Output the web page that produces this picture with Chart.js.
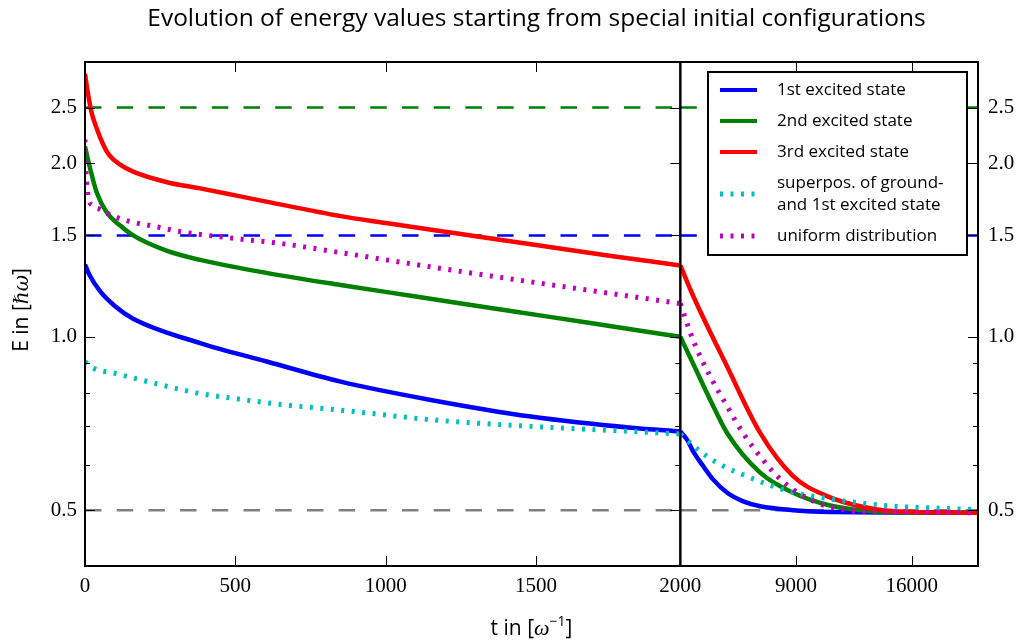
<!DOCTYPE html>
<html lang="en">
<head>
<meta charset="UTF-8">
<title>Evolution of energy values</title>
<script src="https://cdn.jsdelivr.net/npm/chart.js"></script>
<style>
  html, body { margin: 0; padding: 0; background: #fff; }
  #wrap { position: relative; width: 1021px; height: 644px; }
</style>
</head>
<body>
<div id="wrap"><canvas id="chart" width="1021" height="644"></canvas></div>
<script>
// axis ticks
const leftTicks = [0, 500, 1000, 1500];
const rightTicks = [2000, 9000, 16000];
const yMajor = [0.5, 1.0, 1.5, 2.0, 2.5];
const yMinor = [0.6, 0.7, 0.8, 0.9];

// 1st excited state
const tBlueL = [0, 15, 50, 100, 160, 383, 607, 850, 1150, 1483, 1817, 1980];
const eBlueL = [1.335, 1.28, 1.20, 1.13, 1.075, 0.975, 0.905, 0.836, 0.777, 0.727, 0.695, 0.685];
const tBlueR = [2000, 2402, 2784, 3388, 3991, 4836, 5801, 6827, 8819, 10448, 20000];
const eBlueR = [0.685, 0.663, 0.632, 0.596, 0.565, 0.536, 0.518, 0.508, 0.500, 0.497, 0.495];

// 2nd excited state
const tGreenL = [0, 17, 39, 72, 117, 160, 273, 383, 607, 850, 1100, 1300, 1540, 1750, 1980];
const eGreenL = [2.14, 1.96, 1.78, 1.645, 1.56, 1.50, 1.41, 1.36, 1.29, 1.23, 1.175, 1.132, 1.084, 1.043, 1.0];
const tGreenR = [2000, 2784, 3810, 4836, 6827, 8819, 10870, 12861, 14853, 20000];
const eGreenR = [1.0, 0.897, 0.777, 0.68, 0.581, 0.536, 0.511, 0.50, 0.496, 0.495];

// 3rd excited state
const tRedL = [0, 10, 22, 39, 60, 80, 117, 160, 273, 383, 500, 607, 850, 1000, 1250, 1500, 1750, 1980];
const eRedL = [2.86, 2.64, 2.45, 2.30, 2.16, 2.07, 1.99, 1.935, 1.855, 1.81, 1.76, 1.715, 1.62, 1.576, 1.508, 1.443, 1.381, 1.33];
const tRedR = [2000, 2784, 4836, 6827, 8819, 10870, 12861, 14853, 20000];
const eRedR = [1.33, 1.176, 0.887, 0.681, 0.573, 0.529, 0.508, 0.498, 0.495];

// superposition of ground and 1st excited state
const tCyanL = [0, 28, 100, 233, 378, 517, 661, 839, 1150, 1483, 1817, 1980];
const eCyanL = [0.905, 0.882, 0.864, 0.830, 0.798, 0.779, 0.762, 0.747, 0.718, 0.699, 0.685, 0.678];
const tCyanR = [2000, 2603, 3610, 4715, 5801, 7008, 8215, 9422, 10146, 12077, 14853, 16904, 20000];
const eCyanR = [0.678, 0.654, 0.62, 0.594, 0.576, 0.558, 0.543, 0.532, 0.528, 0.518, 0.508, 0.505, 0.501];

// uniform distribution
const tMagL = [0, 3, 10, 25, 50, 83, 150, 217, 327, 493, 660, 850, 1100, 1373, 1650, 1980];
const eMagL = [2.20, 1.95, 1.76, 1.69, 1.665, 1.63, 1.585, 1.56, 1.52, 1.483, 1.45, 1.40, 1.335, 1.27, 1.21, 1.142];
const tMagR = [2000, 2784, 3810, 4836, 5801, 6827, 7853, 8819, 9844, 10870, 12861, 20000];
const eMagR = [1.142, 0.985, 0.853, 0.757, 0.68, 0.62, 0.573, 0.543, 0.522, 0.508, 0.498, 0.495];

// horizontal reference levels
const refLevels = [2.5, 1.5, 0.5];
const refColors = ['#008000', '#0000ff', '#808080'];
const leftRange = [0, 1980];
const rightRange = [2000, 20000];

const TITLE = 'Evolution of energy values starting from special initial configurations';
const SANS = '"Open Sans", "Noto Sans", sans-serif';
const SERIF = '"Liberation Serif", "DejaVu Serif", serif';

function pts(ts, es) { return ts.map((t, i) => ({x: t, y: es[i]})); }

const solid = {borderWidth: 4.5, borderDash: []};
const dotted = {borderWidth: 5, borderDash: [3, 7.5]};

function series(label, color, style, order, tL, eL, tR, eR) {
  const base = {borderColor: color, backgroundColor: color, pointRadius: 0,
    cubicInterpolationMode: 'monotone', fill: false, order: order, yAxisID: 'yL',
    borderCapStyle: 'butt', ...style};
  return [
    {...base, label: label, inLegend: true, xAxisID: 'xL', data: pts(tL, eL)},
    {...base, label: label, xAxisID: 'xR', data: pts(tR, eR)}
  ];
}

const datasets = [];
refLevels.forEach((lv, i) => {
  const base = {borderColor: refColors[i], borderWidth: 2.5, borderDash: [16.5, 15.2],
    pointRadius: 0, order: 10, yAxisID: 'yL', label: 'E = ' + lv};
  datasets.push({...base, xAxisID: 'xL', data: leftRange.map(t => ({x: t, y: lv}))});
  datasets.push({...base, xAxisID: 'xR', data: rightRange.map(t => ({x: t, y: lv}))});
});
datasets.push(...series('1st excited state', '#0000ff', solid, 5, tBlueL, eBlueL, tBlueR, eBlueR));
datasets.push(...series('2nd excited state', '#008000', solid, 4, tGreenL, eGreenL, tGreenR, eGreenR));
datasets.push(...series('3rd excited state', '#ff0000', solid, 3, tRedL, eRedL, tRedR, eRedR));
datasets.push(...series('superpos. of ground-\nand 1st excited state', '#00bfbf', dotted, 2, tCyanL, eCyanL, tCyanR, eCyanR));
datasets.push(...series('uniform distribution', '#bf00bf', dotted, 1, tMagL, eMagL, tMagR, eMagR));

// draw a label made of pieces with different fonts, centred on cx
function drawRich(ctx, parts, cx, cy) {
  let w = 0;
  parts.forEach(p => { ctx.font = p.font; p.w = ctx.measureText(p.text).width; w += p.w; });
  let x = cx - w / 2;
  ctx.textAlign = 'left';
  ctx.textBaseline = 'alphabetic';
  parts.forEach(p => { ctx.font = p.font; ctx.fillText(p.text, x, cy + (p.dy || 0)); x += p.w; });
}

const framePlugin = {
  id: 'frame',
  afterDatasetsDraw(chart) {
    const ctx = chart.ctx, a = chart.chartArea;
    const xL = chart.scales.xL, xR = chart.scales.xR, yL = chart.scales.yL;
    ctx.save();
    ctx.strokeStyle = '#000';
    ctx.lineWidth = 1;
    ctx.beginPath();
    [xL, xR].forEach(s => {
      s.ticks.forEach(t => {
        const x = Math.round(s.getPixelForValue(t.value)) + 0.5;
        ctx.moveTo(x, a.bottom); ctx.lineTo(x, a.bottom - 10);
        ctx.moveTo(x, a.top); ctx.lineTo(x, a.top + 10);
      });
    });
    yL.ticks.forEach(t => {
      const y = Math.round(yL.getPixelForValue(t.value)) + 0.5;
      const len = yMajor.includes(t.value) ? 10 : 5;
      ctx.moveTo(xL.left, y); ctx.lineTo(xL.left + len, y);
      ctx.moveTo(xL.right, y); ctx.lineTo(xL.right - len, y);
      ctx.moveTo(xR.right, y); ctx.lineTo(xR.right - len, y);
    });
    ctx.stroke();
    ctx.lineWidth = 2;
    ctx.strokeRect(xL.left, a.top, xL.right - xL.left, a.bottom - a.top);
    ctx.strokeRect(xR.left, a.top, xR.right - xR.left, a.bottom - a.top);
    ctx.restore();
  },
  afterDraw(chart) {
    const ctx = chart.ctx, a = chart.chartArea;
    ctx.save();
    ctx.fillStyle = '#000';
    ctx.font = '24.5px ' + SANS;
    ctx.textAlign = 'center';
    ctx.textBaseline = 'middle';
    ctx.fillText(TITLE, (a.left + a.right) / 2 + 5, 19);
    drawRich(ctx, [
      {text: 't in [', font: '21px ' + SANS},
      {text: 'ω', font: 'italic 22px ' + SERIF},
      {text: '−1', font: '14px ' + SANS, dy: -9},
      {text: ']', font: '21px ' + SANS}
    ], (a.left + a.right) / 2, 635);
    ctx.translate(28, (a.top + a.bottom) / 2 - 4);
    ctx.rotate(-Math.PI / 2);
    drawRich(ctx, [
      {text: 'E in [', font: '21px ' + SANS},
      {text: 'ℏω', font: 'italic 20px "DejaVu Serif", serif'},
      {text: ']', font: '21px ' + SANS}
    ], 0, 0);
    ctx.restore();

    // legend
    const items = chart.data.datasets.filter(d => d.inLegend);
    const bx = a.right - 270, by = a.top + 10, bw = 259, bh = 183;
    ctx.save();
    ctx.fillStyle = '#fff';
    ctx.fillRect(bx, by, bw, bh);
    ctx.strokeStyle = '#000';
    ctx.lineWidth = 2;
    ctx.strokeRect(bx, by, bw, bh);
    let y = by + 18;
    items.forEach(d => {
      const lines = d.label.split('\n');
      const sy = y + (lines.length - 1) * 11;
      ctx.beginPath();
      ctx.strokeStyle = d.borderColor;
      ctx.lineWidth = d.borderDash.length ? 5 : 4;
      ctx.setLineDash(d.borderDash);
      ctx.moveTo(bx + 12, sy); ctx.lineTo(bx + 49, sy);
      ctx.stroke();
      ctx.setLineDash([]);
      ctx.fillStyle = '#000';
      ctx.font = '17px ' + SANS;
      ctx.textAlign = 'left';
      ctx.textBaseline = 'middle';
      lines.forEach((ln, k) => ctx.fillText(ln, bx + 69, y + k * 22));
      y += 31 + (lines.length - 1) * 22;
    });
    ctx.restore();
  }
};

const tickFont = {family: SERIF, size: 21};

function yAxis(position, width) {
  return {
    type: 'logarithmic', position: position, min: 0.4, max: 3.0,
    afterBuildTicks: s => { s.ticks = yMajor.concat(yMinor).map(v => ({value: v})); },
    afterFit: s => { s.width = width; },
    grid: {display: false, drawTicks: false}, border: {display: false},
    ticks: {autoSkip: false, color: '#000', font: tickFont, padding: position === 'left' ? 8 : 10,
      callback: v => yMajor.includes(v) ? v.toFixed(1) : ''}
  };
}

function xAxis(range, ticks, weight) {
  return {
    type: 'linear', position: 'bottom', stack: 'x', stackWeight: weight,
    min: range[0], max: range[1],
    afterBuildTicks: s => { s.ticks = ticks.map(v => ({value: v})); },
    afterFit: s => { s.height = 78; },
    grid: {display: false, drawTicks: false}, border: {display: false},
    ticks: {autoSkip: false, maxRotation: 0, color: '#000', font: tickFont, padding: 8,
      callback: v => String(v)}
  };
}

new Chart(document.getElementById('chart'), {
  type: 'line',
  data: {datasets: datasets},
  options: {
    responsive: false,
    animation: false,
    devicePixelRatio: 1,
    layout: {padding: {top: 62, left: 0, right: 0, bottom: 0}},
    plugins: {legend: {display: false}, title: {display: false}, tooltip: {enabled: false}},
    scales: {
      xL: xAxis(leftRange, leftTicks, 2),
      xR: xAxis(rightRange, rightTicks, 1),
      yL: yAxis('left', 85),
      yR: yAxis('right', 43)
    }
  },
  plugins: [framePlugin]
});
</script>
</body>
</html>
